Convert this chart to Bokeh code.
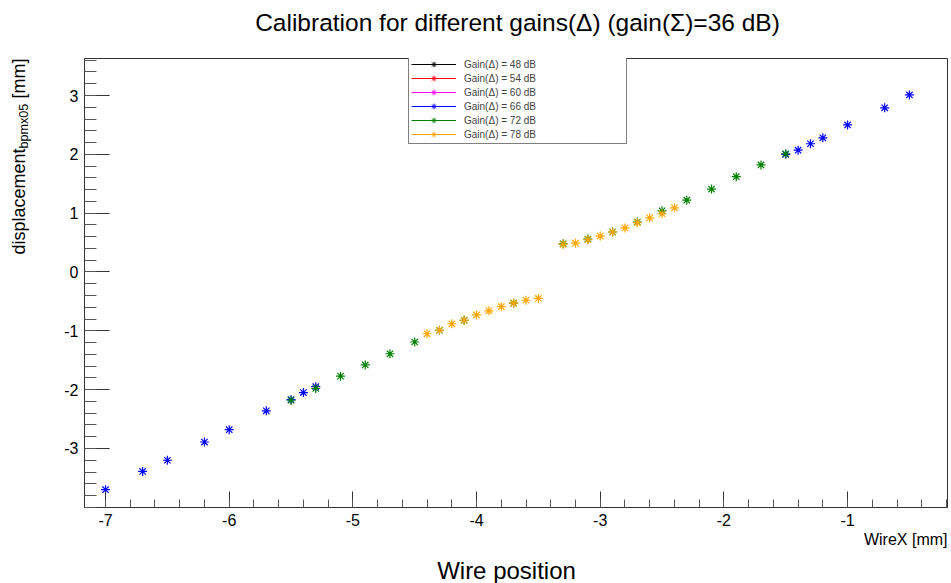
import numpy as np
from bokeh.plotting import figure
from bokeh.layouts import row, column
from bokeh.models import (Label, Legend, LegendItem, FixedTicker, Range1d,
                          ColumnDataSource, Title)
from bokeh.embed import file_html
from bokeh.resources import INLINE

FONT = "Liberation Sans"

# ---- data ----
series_names = ["Gain(\u0394) = 48 dB", "Gain(\u0394) = 54 dB", "Gain(\u0394) = 60 dB",
                "Gain(\u0394) = 66 dB", "Gain(\u0394) = 72 dB", "Gain(\u0394) = 78 dB"]
series_colors = ["#000000", "#ff0000", "#ff00ff", "#0000ff", "#008000", "#ffa500"]

g48_x = []
g48_y = []
g54_x = []
g54_y = []
g60_x = []
g60_y = []

g66_x = [-7.0, -6.7, -6.5, -6.2, -6.0, -5.7, -5.5, -5.4, -5.3,
         -1.5, -1.4, -1.3, -1.2, -1.0, -0.7, -0.5]
g66_y = [-3.70, -3.39, -3.20, -2.89, -2.68, -2.36, -2.17, -2.05, -1.95,
         2.00, 2.07, 2.18, 2.28, 2.50, 2.79, 3.01]

g72_x = [-5.5, -5.3, -5.1, -4.9, -4.7, -4.5, -4.3, -4.1, -3.7,
         -3.3, -3.1, -2.9, -2.7, -2.5, -2.3, -2.1, -1.9, -1.7, -1.5]
g72_y = [-2.18, -1.98, -1.77, -1.58, -1.39, -1.19, -0.99, -0.82, -0.53,
         0.48, 0.56, 0.68, 0.85, 1.04, 1.22, 1.41, 1.62, 1.82, 2.01]

g78_x = [-4.4, -4.3, -4.2, -4.1, -4.0, -3.9, -3.8, -3.7, -3.6, -3.5,
         -3.3, -3.2, -3.1, -3.0, -2.9, -2.8, -2.7, -2.6, -2.5, -2.4]
g78_y = [-1.05, -0.99, -0.88, -0.82, -0.73, -0.66, -0.59, -0.53, -0.48, -0.45,
         0.47, 0.49, 0.55, 0.61, 0.68, 0.75, 0.84, 0.92, 0.99, 1.09]

series_x = [g48_x, g54_x, g60_x, g66_x, g72_x, g78_x]
series_y = [g48_y, g54_y, g60_y, g66_y, g72_y, g78_y]

x_ticks = [-7, -6, -5, -4, -3, -2, -1]
x_tick_labels = ["-7", "-6", "-5", "-4", "-3", "-2", "-1"]
y_ticks = [-3, -2, -1, 0, 1, 2, 3]
y_tick_labels = ["-3", "-2", "-1", "0", "1", "2", "3"]

title_text = "Calibration for different gains(\u0394) (gain(\u03a3)=36 dB)"
x_title = "WireX [mm]"
bottom_text = "Wire position"
y_title_main = "displacement"
y_title_sub = "bpmx05"
y_title_unit = "[mm]"

# ---- layout constants (canvas pixels) ----
W, H = 951, 583
LW = 40            # left strip (y title)
TH = 40            # top strip (title)
BH = 28            # bottom strip ("Wire position")
MW = W - LW
MH = H - TH - BH
FRAME_LEFT = 84    # canvas x of the plot frame (strips in the column share it)


def strip(w, h):
    f = figure(width=w, height=h, x_range=Range1d(0, w), y_range=Range1d(0, h),
               output_backend="svg", toolbar_location=None,
               min_border_left=0, min_border_right=0, min_border_top=0,
               min_border_bottom=0, x_axis_location=None, y_axis_location=None)
    f.xgrid.visible = False
    f.ygrid.visible = False
    f.outline_line_color = None
    f.title.visible = False
    return f


def put(fig, text, x, y, size, align="center", baseline="middle", angle=0.0):
    # x, y in pixels from the strip frame's left / bottom edge
    fig.add_layout(Label(x=x, y=y, x_units="screen", y_units="screen",
                         text=text, text_font=FONT, text_font_size=size,
                         text_align=align, text_baseline=baseline,
                         angle=angle, text_color="black"))


# ---- main figure ----
p = figure(width=MW, height=MH,
           x_range=Range1d(-7.170, -0.192), y_range=Range1d(-4.003, 3.629),
           output_backend="svg", toolbar_location=None,
           min_border_left=FRAME_LEFT - LW, min_border_right=4,
           min_border_top=58 - TH, min_border_bottom=MH - (58 - TH) - 449)
p.title.visible = False
p.xgrid.visible = False
p.ygrid.visible = False
p.outline_line_color = "#333333"
p.outline_line_width = 1
p.background_fill_color = "white"
p.border_fill_color = "white"

p.xaxis.ticker = FixedTicker(ticks=x_ticks,
                             minor_ticks=list(np.round(np.arange(-7.0, -0.19, 0.2), 2)))
p.yaxis.ticker = FixedTicker(ticks=y_ticks,
                             minor_ticks=list(np.round(np.arange(-4.0, 3.61, 0.2), 2)))
p.xaxis.major_label_overrides = dict(zip(x_ticks, x_tick_labels))
p.yaxis.major_label_overrides = dict(zip(y_ticks, y_tick_labels))
for ax in (p.xaxis[0], p.yaxis[0]):
    ax.axis_line_color = "#333333"
    ax.major_tick_line_color = "#333333"
    ax.minor_tick_line_color = "#555555"
    ax.major_tick_out = 0
    ax.minor_tick_out = 0
    ax.major_label_text_font = FONT
    ax.major_label_text_font_size = "16px"
    ax.major_label_text_color = "black"
    ax.major_label_standoff = 6
p.xaxis.major_tick_in = 16
p.xaxis.minor_tick_in = 8
p.yaxis.major_tick_in = 25
p.yaxis.minor_tick_in = 12

# ---- data points ----
for xs, ys, col in zip(series_x, series_y, series_colors):
    src = ColumnDataSource(dict(x=xs, y=ys))
    p.scatter("x", "y", source=src, marker="asterisk", size=9,
              line_color=col, line_width=1.2)

# ---- legend (proxy renderers) ----
items = []
for name, col in zip(series_names, series_colors):
    src = ColumnDataSource(dict(x=np.array([np.nan]), y=np.array([np.nan])))
    lr = p.line("x", "y", source=src, line_color=col, line_width=1)
    sr = p.scatter("x", "y", source=src, marker="asterisk", size=7,
                   line_color=col, line_width=1.0)
    items.append(LegendItem(label=name, renderers=[lr, sr]))

legend = Legend(items=items, location=(324, 363), orientation="vertical",
                label_text_font=FONT, label_text_font_size="10px",
                glyph_width=45, glyph_height=14, label_height=14,
                label_width=160, label_standoff=8, spacing=0, padding=2,
                margin=0, border_line_color="black", border_line_width=1,
                background_fill_color="white", background_fill_alpha=1.0)
p.add_layout(legend)

# x-axis title, right aligned under the axis
p.add_layout(Title(text=x_title, align="right", text_font=FONT,
                   text_font_size="16px", text_font_style="normal",
                   text_color="black", standoff=0), "below")

# ---- top strip: title ----
top = strip(MW, TH)
put(top, title_text, 517 - FRAME_LEFT, TH - 22, "24.5px")

# ---- bottom strip: "Wire position" ----
bot = strip(MW, BH)
put(bot, bottom_text, 506 - FRAME_LEFT, H - 570, "24px")

# ---- left strip: rotated y title with subscript ----
yl = strip(LW, H)
put(yl, y_title_main, 18, H - 254, "18px", align="left", baseline="alphabetic",
    angle=np.pi / 2)
put(yl, y_title_sub, 23, H - 148, "12.6px", align="left", baseline="alphabetic",
    angle=np.pi / 2)
put(yl, y_title_unit, 18, H - 58, "18px", align="right", baseline="alphabetic",
    angle=np.pi / 2)

layout = row(yl, column(top, p, bot, spacing=0), spacing=0)

open("out.html", "w").write(file_html(layout, INLINE))
